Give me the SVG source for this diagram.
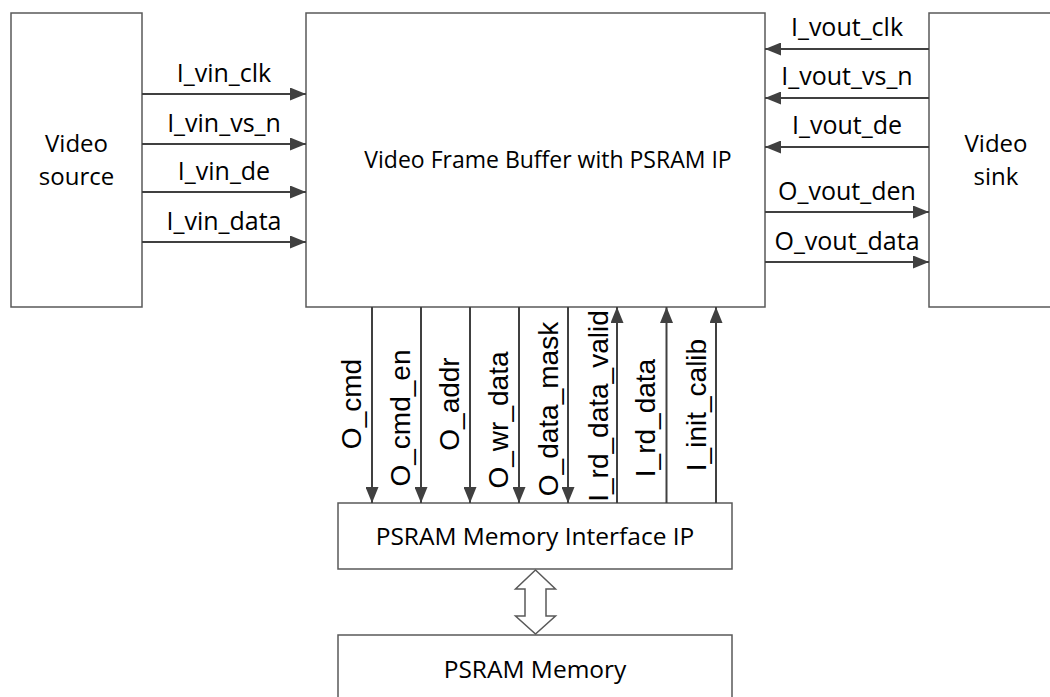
<svg xmlns="http://www.w3.org/2000/svg" width="1050" height="697" viewBox="0 0 1050 697">
<style>
.box{fill:#fff;stroke:#595959;stroke-width:1.5}
.lbl{font-family:"Open Sans","Liberation Sans",sans-serif;font-size:25px;fill:#000;text-anchor:middle}
.nm{font-family:"Open Sans","Liberation Sans",sans-serif;font-size:24px;fill:#000;text-anchor:middle}
.vl{font-family:"Liberation Sans",Arial,sans-serif;font-size:28px;fill:#000;text-anchor:middle}
.ln{stroke:#404040;stroke-width:2;fill:none;marker-end:url(#ah)}
</style>
<defs>
<marker id="ah" markerWidth="16" markerHeight="13" refX="16" refY="6.5" orient="auto" markerUnits="userSpaceOnUse">
<path d="M0,0 L16,6.5 L0,13 Z" fill="#404040"/>
</marker>
</defs>
<rect width="1050" height="697" fill="#fff"/>
<g id="video-source"><rect class="box" x="11" y="13" width="131" height="294"/>
<text class="nm" x="76.5" y="152">Video</text><text class="nm" x="76.5" y="185">source</text></g>
<g id="frame-buffer"><rect class="box" x="306" y="13" width="459" height="294"/>
<text class="nm" x="548" y="168" style="font-size:23px">Video Frame Buffer with PSRAM IP</text></g>
<g id="video-sink"><rect class="box" x="929" y="13" width="140" height="294"/>
<text class="nm" x="996" y="152">Video</text><text class="nm" x="996" y="185">sink</text></g>
<g id="psram-if"><rect class="box" x="338" y="503" width="394" height="66"/>
<text class="nm" x="535" y="545" style="font-size:24.5px">PSRAM Memory Interface IP</text></g>
<g id="psram-mem"><rect class="box" x="338" y="635" width="394" height="80"/>
<text class="nm" x="535" y="678" style="font-size:24.5px">PSRAM Memory</text></g>
<g id="connectors">
<line class="ln" x1="142" y1="94" x2="306" y2="94"/>
<line class="ln" x1="142" y1="144" x2="306" y2="144"/>
<line class="ln" x1="142" y1="192" x2="306" y2="192"/>
<line class="ln" x1="142" y1="242" x2="306" y2="242"/>
<line class="ln" x1="929" y1="49" x2="765" y2="49"/>
<line class="ln" x1="929" y1="98" x2="765" y2="98"/>
<line class="ln" x1="929" y1="147" x2="765" y2="147"/>
<line class="ln" x1="765" y1="212" x2="929" y2="212"/>
<line class="ln" x1="765" y1="262" x2="929" y2="262"/>
<line class="ln" x1="372" y1="307" x2="372" y2="503"/>
<line class="ln" x1="421" y1="307" x2="421" y2="503"/>
<line class="ln" x1="470" y1="307" x2="470" y2="503"/>
<line class="ln" x1="519" y1="307" x2="519" y2="503"/>
<line class="ln" x1="568" y1="307" x2="568" y2="503"/>
<line class="ln" x1="617" y1="503" x2="617" y2="307"/>
<line class="ln" x1="666.5" y1="503" x2="666.5" y2="307"/>
<line class="ln" x1="716" y1="503" x2="716" y2="307"/>
<path d="M535.5,570 L555.5,589 L546,589 L546,616 L555.5,616 L535.5,634 L515.5,616 L525,616 L525,589 L515.5,589 Z" fill="#fff" stroke="#595959" stroke-width="1.5"/>
<text class="lbl" x="224" y="82">I_vin_clk</text>
<text class="lbl" x="224" y="132">I_vin_vs_n</text>
<text class="lbl" x="224" y="180">I_vin_de</text>
<text class="lbl" x="224" y="230">I_vin_data</text>
<text class="lbl" x="847" y="36">I_vout_clk</text>
<text class="lbl" x="847" y="85">I_vout_vs_n</text>
<text class="lbl" x="847" y="134">I_vout_de</text>
<text class="lbl" x="847" y="200">O_vout_den</text>
<text class="lbl" x="847" y="250">O_vout_data</text>
<text class="vl" transform="translate(361,404) rotate(-90)">O_cmd</text>
<text class="vl" transform="translate(410,418) rotate(-90)">O_cmd_en</text>
<text class="vl" transform="translate(459,404) rotate(-90)">O_addr</text>
<text class="vl" transform="translate(508,420) rotate(-90)">O_wr_data</text>
<text class="vl" transform="translate(558,409) rotate(-90)">O_data_mask</text>
<text class="vl" transform="translate(608,406) rotate(-90)">I_rd_data_valid</text>
<text class="vl" transform="translate(655,418) rotate(-90)">I_rd_data</text>
<text class="vl" transform="translate(706,405) rotate(-90)">I_init_calib</text>
</g>
</svg>
